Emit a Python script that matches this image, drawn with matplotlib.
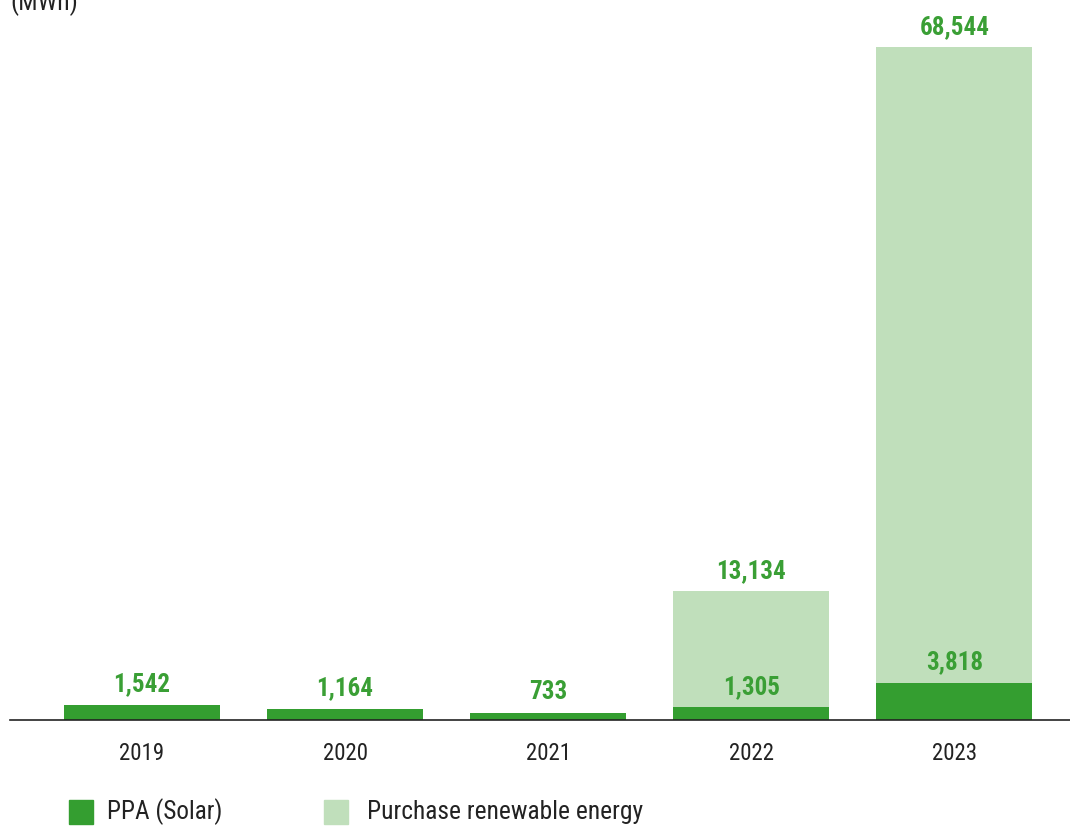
import matplotlib
matplotlib.use("Agg")
import matplotlib.pyplot as plt
from matplotlib.patches import Rectangle

years = ["2019", "2020", "2021", "2022", "2023"]
ppa_solar = [1542, 1164, 733, 1305, 3818]
purchase_renewable = [0, 0, 0, 11829, 64726]
total_labels = [None, None, None, "13,134", "68,544"]
ppa_labels = ["1,542", "1,164", "733", "1,305", "3,818"]

DARK = "#349e30"
LIGHT = "#c0dfbb"
TXT = "#3a9f35"

plt.rcParams['font.family'] = ['Roboto Condensed', 'Liberation Sans Narrow', 'Roboto', 'DejaVu Sans']

fig = plt.figure(figsize=(10.70, 8.26), dpi=100)
ax = fig.add_axes([10/1070, 1 - 720/826, 1060/1070, 720/826])

x = list(range(len(years)))
w = 0.768
ax.bar(x, ppa_solar, width=w, color=DARK, zorder=2)
ax.bar(x, purchase_renewable, width=w, bottom=ppa_solar, color=LIGHT, zorder=2)

ax.set_xlim(-0.65, 4.57)
ax.set_ylim(0, 73330)

for i in x:
    top = ppa_solar[i] + purchase_renewable[i]
    ax.annotate(ppa_labels[i], (i, ppa_solar[i]), xytext=(0, 9.6), textcoords='offset points',
                ha='center', va='baseline', fontsize=18, fontweight='bold', color=TXT)
    if total_labels[i]:
        ax.annotate(total_labels[i], (i, top), xytext=(0, 9.2), textcoords='offset points',
                    ha='center', va='baseline', fontsize=18, fontweight='bold', color=TXT)

for s in ['top', 'right', 'left']:
    ax.spines[s].set_visible(False)
ax.spines['bottom'].set_color('#222222')
ax.spines['bottom'].set_linewidth(1.2)
ax.set_yticks([])
ax.set_xticks(x)
ax.set_xticklabels(years, fontsize=16.5, color='#222222')
ax.tick_params(axis='x', length=0, pad=16)

fig.text(10/1070, 1 - 10/826, "(MWh)", fontsize=18.5, color='#222222', ha='left', va='baseline')

# legend
fig.patches.append(Rectangle((69/1070, 1 - 824/826), 24/1070, 24/826, transform=fig.transFigure,
                             color=DARK, figure=fig))
fig.text(107/1070, 1 - 812/826, "PPA (Solar)", fontsize=18.2, color='#222222', va='center')
fig.patches.append(Rectangle((324/1070, 1 - 824/826), 24/1070, 24/826, transform=fig.transFigure,
                             color=LIGHT, figure=fig))
fig.text(367/1070, 1 - 812/826, "Purchase renewable energy", fontsize=18.4, color='#222222', va='center')

fig.savefig("out.png", dpi=100)
